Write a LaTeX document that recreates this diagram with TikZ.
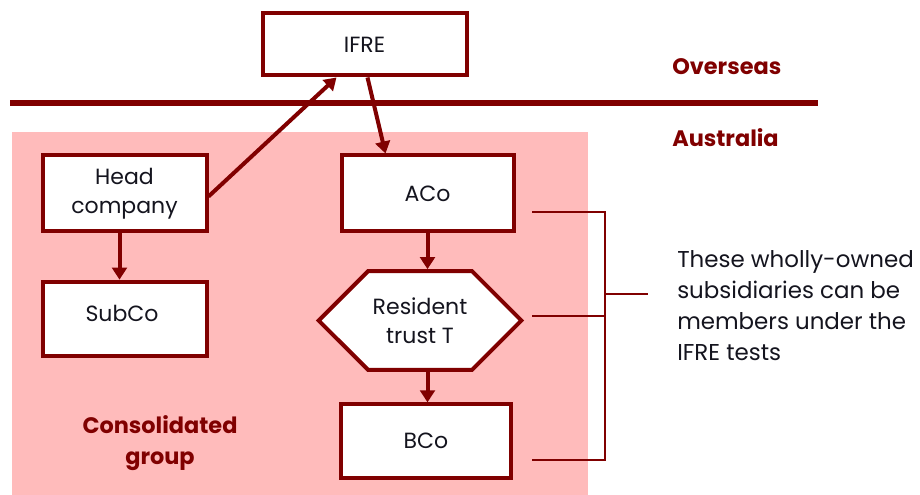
\documentclass[tikz,border=0pt]{standalone}
\usepackage{fontspec}
\setmainfont{Poppins}
\usetikzlibrary{shapes.symbols,arrows.meta,calc}
\definecolor{dred}{RGB}{128,0,0}
\definecolor{pinkbg}{RGB}{255,187,187}
\definecolor{txt}{RGB}{20,20,30}
\begin{document}
\begin{tikzpicture}[x=0.75pt,y=-0.75pt,
  box/.style={draw=dred, line width=3pt, fill=white, align=center, text=txt,
    font=\fontsize{16.5}{22}\selectfont, inner sep=0pt},
  arr/.style={draw=dred, line width=3pt, -{Triangle[width=11pt,length=9pt]}},
  brk/.style={draw=dred, line width=1.5pt},
  lbl/.style={text=dred, font=\bfseries\fontsize{16.8}{23}\selectfont, align=center, inner sep=0pt}]
\useasboundingbox (0,0) rectangle (920,495);
% background region
\fill[pinkbg] (12,132) rectangle (588,495);
% border line
\draw[dred, line width=4.5pt] (10,103) -- (818,103);
% nodes
\node[box, minimum width=153pt, minimum height=46.5pt] (IFRE) at (364.5,44.5) {IFRE};
\node[box, minimum width=123pt, minimum height=57pt] (HC) at (124.5,193.5) {Head\\company};
\node[box, minimum width=129pt, minimum height=57pt] (ACo) at (427.5,193.5) {ACo};
\node[box, minimum width=123pt, minimum height=56pt] (SubCo) at (124.5,319) {};
\node[text=txt, font=\fontsize{16.5}{22}\selectfont, inner sep=0pt] (SubCoT) at (122,313) {SubCo};
\node[box, shape=signal, signal to=east and west, signal pointer angle=90,
  minimum width=152pt, minimum height=74pt] (T) at (420,320.5) {Resident\\trust T};
\node[box, minimum width=127pt, minimum height=55pt] (BCo) at (426,441) {BCo};
% labels
\node[lbl, anchor=west] (OV) at (672,67) {Overseas};
\node[lbl, anchor=west] (AU) at (672,138) {Australia};
\node[lbl] (CG) at (160,443) {Consolidated\\group};
\node[anchor=west, align=left, text=txt, inner sep=0pt,
  font=\fontsize{17.2}{23.25}\selectfont] (NOTE) at (677,306)
  {These wholly-owned\\subsidiaries can be\\members under the\\IFRE tests};
% arrows
\coordinate (hcout) at ($(HC.east)+(0,3)$);
\coordinate (ifin) at ($(IFRE.south west)+(76,0)$);
\coordinate (ifout) at ($(IFRE.south west)+(107,0)$);
\coordinate (acin) at ($(ACo.north west)+(46,0)$);
\draw[arr] (hcout) -- (ifin);
\draw[arr] (ifout) -- (acin);
\draw[arr] ($(HC.south)+(-5,0)$) -- ($(SubCo.north)+(-5,0)$);
\draw[arr] (ACo.south) -- (ACo.south |- T.north);
\draw[arr] (ACo.south |- T.south) -- (ACo.south |- BCo.north);
% bracket
\coordinate (b1) at (532,212);
\coordinate (b2) at (532,316);
\coordinate (b3) at (532,460);
\coordinate (bx) at (605,294);
\coordinate (bm) at (648,294);
\draw[brk] (b1) -| (bx |- b3) -- (b3);
\draw[brk] (b2) -- (bx |- b2);
\draw[brk] (bx) -- (bm);
\end{tikzpicture}
\end{document}
